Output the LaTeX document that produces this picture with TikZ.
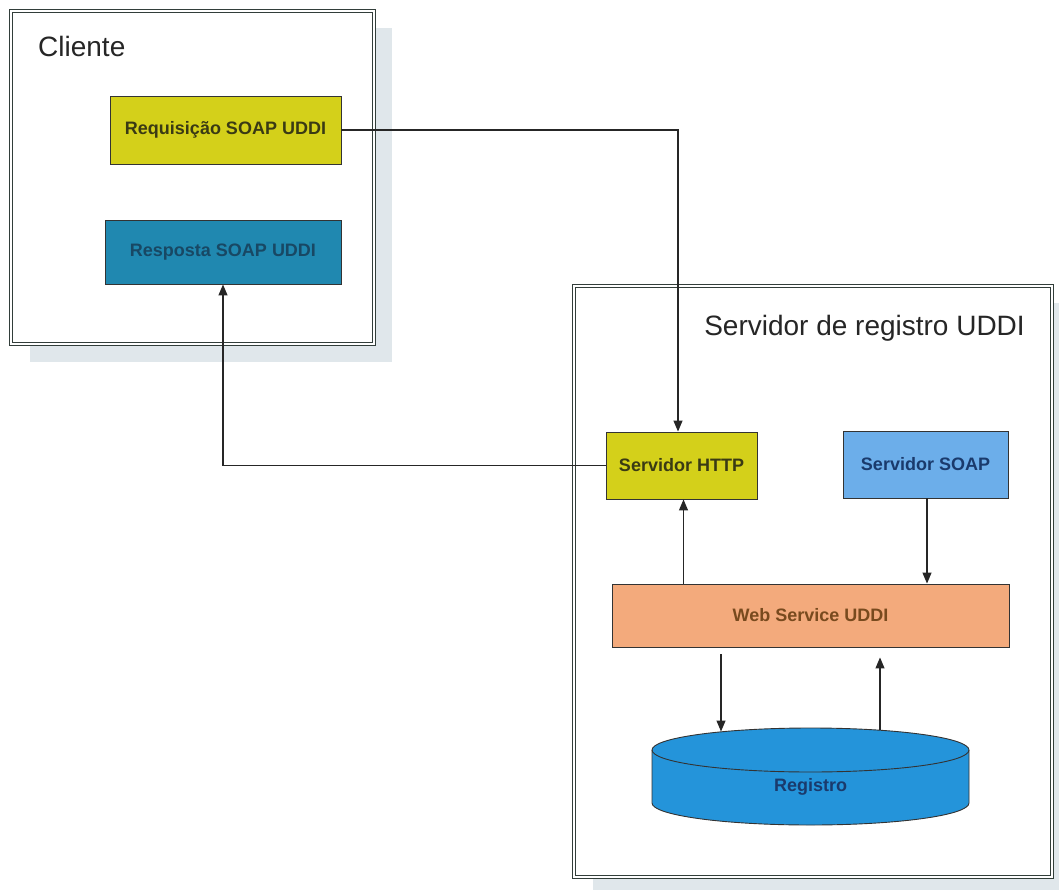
\documentclass[tikz,border=0pt]{standalone}
\usepackage{fontspec}
\setmainfont{Liberation Sans}
\usetikzlibrary{arrows.meta}

\definecolor{shadowgrey}{RGB}{224,231,235}
\definecolor{frame}{RGB}{50,62,58}
\definecolor{reqyellow}{RGB}{212,208,26}
\definecolor{respteal}{RGB}{32,136,176}
\definecolor{soapblue}{RGB}{108,174,234}
\definecolor{wssalmon}{RGB}{243,170,124}
\definecolor{regblue}{RGB}{36,148,218}
\definecolor{txtolive}{RGB}{58,58,20}
\definecolor{txtteal}{RGB}{24,72,100}
\definecolor{txtnavy}{RGB}{26,58,108}
\definecolor{txtbrown}{RGB}{120,74,30}

\tikzset{
  container/.style={draw=frame, line width=1.1pt, double=white, double distance=2.2pt, fill=white},
  shadowbox/.style={fill=shadowgrey, draw=none},
  compbox/.style={draw=black!80, line width=0.9pt, inner sep=0pt,
    font=\bfseries\fontsize{18}{20}\selectfont},
  title/.style={font=\fontsize{28}{32}\selectfont, text=black!85, inner sep=0pt},
  arr/.style={draw=black!85, line width=1.2pt, -{Triangle[length=11pt,width=9pt]}},
}

\begin{document}
\begin{tikzpicture}[x=1pt,y=-1pt]
\useasboundingbox (0,0) rectangle (1059,890);
\fill[white] (0,0) rectangle (1059,890);

% drop shadows behind the two containers
\fill[shadowbox] (30,28) rectangle (392,362);
\fill[shadowbox] (593,303) rectangle (1070,895);

% containers
\node[container, minimum width=363pt, minimum height=333pt] (cli) at (192.5,177.5) {};
\node[container, minimum width=478pt, minimum height=591pt] (srv) at (813,581.5) {};
\node[title, anchor=base west] (clititle) at (38,57) {Cliente};
\node[title, anchor=base east] (srvtitle) at (1025,335) {Servidor de registro UDDI};

% client side components
\node[compbox, fill=reqyellow, text=txtolive, minimum width=231pt, minimum height=68pt]
  (req) at (225.5,130) {Requisição SOAP UDDI};
\node[compbox, fill=respteal, text=txtteal, minimum width=236pt, minimum height=64pt]
  (resp) at (223,252) {Resposta SOAP UDDI};

% server side components
\node[compbox, fill=reqyellow, text=txtolive, minimum width=151pt, minimum height=67pt]
  (http) at (681.5,465.5) {Servidor HTTP};
\node[compbox, fill=soapblue, text=txtnavy, minimum width=165pt, minimum height=67pt]
  (soap) at (925.5,464.5) {Servidor SOAP};
\node[compbox, fill=wssalmon, text=txtbrown, minimum width=397pt, minimum height=63pt]
  (ws) at (810.5,615.5) {Web Service UDDI};

% registry drum (y axis points down, so angles 0..180 run along the lower rim)
\fill[regblue] (652,750) -- (652,803) arc[start angle=180, end angle=0, x radius=158.5, y radius=22]
  -- (969,750) arc[start angle=0, end angle=-180, x radius=158.5, y radius=22] -- cycle;
\draw[black!80, line width=0.9pt] (652,750) -- (652,803)
  arc[start angle=180, end angle=0, x radius=158.5, y radius=22] -- (969,750);
\draw[black!80, line width=0.9pt] (810.5,750) ellipse[x radius=158.5, y radius=22];
\node[font=\bfseries\fontsize{18}{20}\selectfont, text=txtnavy, inner sep=0pt] (reg) at (810.5,787) {Registro};
\coordinate (regin) at (721,731.5);
\coordinate (regout) at (880,730.2);

% connectors
\draw[arr] (req.east) -| ([xshift=-3.5pt]http.north);
\draw[arr] (http.west) -| (resp.south);
\draw[arr] ([xshift=2pt]http.south |- ws.north) -- ([xshift=2pt]http.south);
\draw[arr] ([xshift=1.5pt]soap.south) -- ([xshift=1.5pt]soap.south |- ws.north);
\draw[arr] ([yshift=-7pt]ws.south -| regin) -- (regin);
\draw[arr] (regout) -- ([yshift=-10pt]ws.south -| regout);
\end{tikzpicture}
\end{document}
